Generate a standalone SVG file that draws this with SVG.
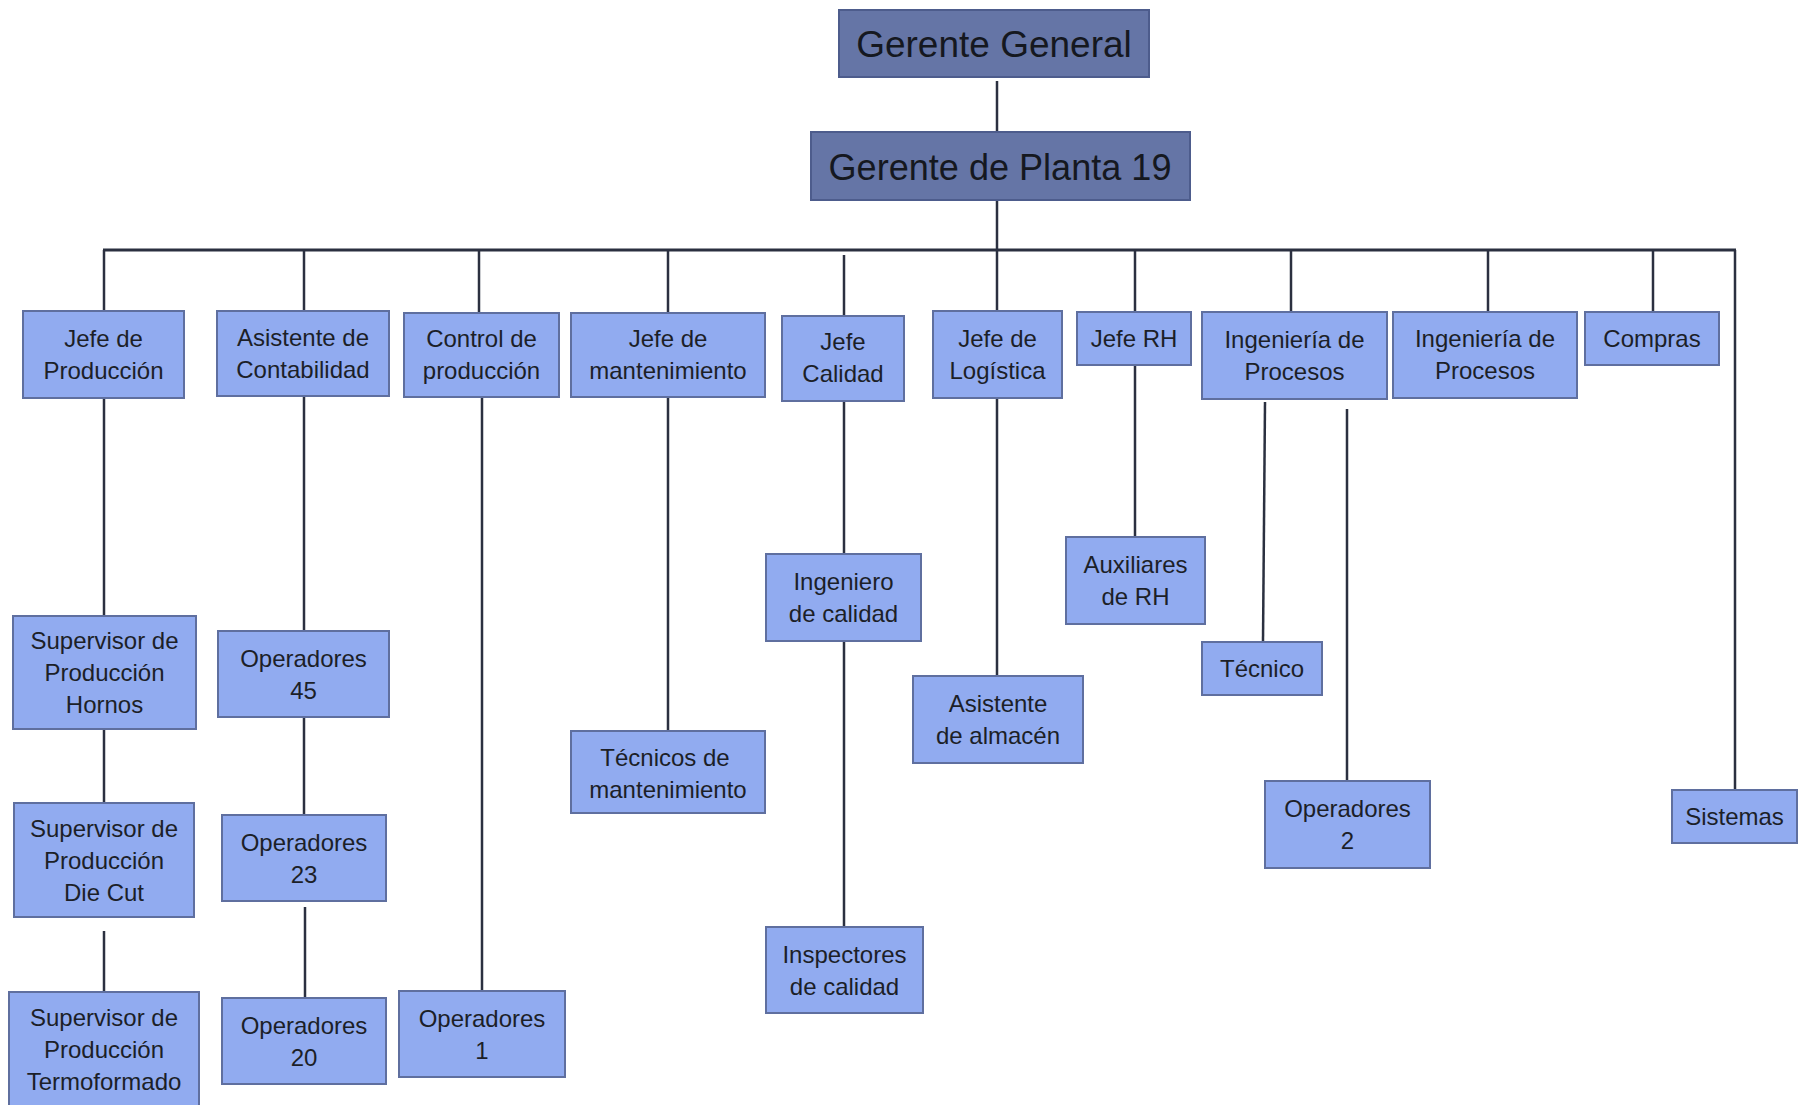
<svg xmlns="http://www.w3.org/2000/svg" width="1803" height="1105" viewBox="0 0 1803 1105">
<style>
.top rect{fill:#6575a6;stroke:#4d5c8c;stroke-width:2}
.top text{font-family:"Liberation Sans",Arial,sans-serif;font-size:37px;fill:#151820;text-anchor:middle}
.n rect{fill:#91abf0;stroke:#5f6f9f;stroke-width:2}
.n text{font-family:"Liberation Sans",Arial,sans-serif;font-size:24px;fill:#1c1f28;text-anchor:middle}
#connectors line{stroke:#2b3040;stroke-width:2.5}
#connectors line.bus{stroke-width:3.2}
</style>
<rect width="1803" height="1105" fill="#ffffff"/>
<g id="connectors">
<line x1="997" y1="81" x2="997" y2="132"/>
<line x1="997" y1="200" x2="997" y2="250"/>
<line class="bus" x1="103" y1="250" x2="1736" y2="250"/>
<line x1="104" y1="250" x2="104" y2="311"/>
<line x1="304" y1="250" x2="304" y2="311"/>
<line x1="479" y1="250" x2="479" y2="313"/>
<line x1="668" y1="250" x2="668" y2="313"/>
<line x1="844" y1="255" x2="844" y2="316"/>
<line x1="997" y1="250" x2="997" y2="311"/>
<line x1="1135" y1="250" x2="1135" y2="312"/>
<line x1="1291" y1="250" x2="1291" y2="312"/>
<line x1="1488" y1="250" x2="1488" y2="312"/>
<line x1="1653" y1="250" x2="1653" y2="312"/>
<line x1="1735" y1="250" x2="1735" y2="790"/>
<line x1="104" y1="398" x2="104" y2="616"/>
<line x1="104" y1="729" x2="104" y2="803"/>
<line x1="104" y1="931" x2="104" y2="992"/>
<line x1="304" y1="396" x2="304" y2="631"/>
<line x1="304" y1="717" x2="304" y2="815"/>
<line x1="305" y1="907" x2="305" y2="998"/>
<line x1="482" y1="397" x2="482" y2="991"/>
<line x1="668" y1="397" x2="668" y2="731"/>
<line x1="844" y1="401" x2="844" y2="554"/>
<line x1="844" y1="641" x2="844" y2="927"/>
<line x1="997" y1="398" x2="997" y2="676"/>
<line x1="1135" y1="365" x2="1135" y2="537"/>
<line x1="1265" y1="402" x2="1263" y2="642"/>
<line x1="1347" y1="409" x2="1347" y2="781"/>
</g>
<g id="gerente-general" class="top"><rect x="839" y="10" width="310" height="67"/><text x="994" y="57">Gerente General</text></g>
<g id="gerente-planta" class="top"><rect x="811" y="132" width="379" height="68"/><text x="1000" y="180" textLength="343" lengthAdjust="spacingAndGlyphs">Gerente de Planta 19</text></g>
<g id="jefe-produccion" class="n"><rect x="23" y="311" width="161" height="87"/><text x="103.5" y="347">Jefe de</text><text x="103.5" y="379">Producción</text></g>
<g id="asistente-contabilidad" class="n"><rect x="217" y="311" width="172" height="85"/><text x="303" y="346">Asistente de</text><text x="303" y="378">Contabilidad</text></g>
<g id="control-produccion" class="n"><rect x="404" y="313" width="155" height="84"/><text x="481.5" y="347">Control de</text><text x="481.5" y="379">producción</text></g>
<g id="jefe-mantenimiento" class="n"><rect x="571" y="313" width="194" height="84"/><text x="668" y="347">Jefe de</text><text x="668" y="379">mantenimiento</text></g>
<g id="jefe-calidad" class="n"><rect x="782" y="316" width="122" height="85"/><text x="843" y="350">Jefe</text><text x="843" y="382">Calidad</text></g>
<g id="jefe-logistica" class="n"><rect x="933" y="311" width="129" height="87"/><text x="997.5" y="347">Jefe de</text><text x="997.5" y="379">Logística</text></g>
<g id="jefe-rh" class="n"><rect x="1077" y="312" width="114" height="53"/><text x="1134" y="347">Jefe RH</text></g>
<g id="ingenieria-procesos-1" class="n"><rect x="1202" y="312" width="185" height="87"/><text x="1294.5" y="348">Ingeniería de</text><text x="1294.5" y="380">Procesos</text></g>
<g id="ingenieria-procesos-2" class="n"><rect x="1393" y="312" width="184" height="86"/><text x="1485" y="347">Ingeniería de</text><text x="1485" y="379">Procesos</text></g>
<g id="compras" class="n"><rect x="1585" y="312" width="134" height="53"/><text x="1652" y="347">Compras</text></g>
<g id="sistemas" class="n"><rect x="1672" y="790" width="125" height="53"/><text x="1734.5" y="825">Sistemas</text></g>
<g id="sup-hornos" class="n"><rect x="13" y="616" width="183" height="113"/><text x="104.5" y="649">Supervisor de</text><text x="104.5" y="681">Producción</text><text x="104.5" y="713">Hornos</text></g>
<g id="sup-diecut" class="n"><rect x="14" y="803" width="180" height="114"/><text x="104" y="837">Supervisor de</text><text x="104" y="869">Producción</text><text x="104" y="901">Die Cut</text></g>
<g id="sup-termoformado" class="n"><rect x="9" y="992" width="190" height="120"/><text x="104" y="1026">Supervisor de</text><text x="104" y="1058">Producción</text><text x="104" y="1090">Termoformado</text></g>
<g id="operadores-45" class="n"><rect x="218" y="631" width="171" height="86"/><text x="303.5" y="667">Operadores</text><text x="303.5" y="699">45</text></g>
<g id="operadores-23" class="n"><rect x="222" y="815" width="164" height="86"/><text x="304" y="851">Operadores</text><text x="304" y="883">23</text></g>
<g id="operadores-20" class="n"><rect x="222" y="998" width="164" height="86"/><text x="304" y="1034">Operadores</text><text x="304" y="1066">20</text></g>
<g id="operadores-1" class="n"><rect x="399" y="991" width="166" height="86"/><text x="482" y="1027">Operadores</text><text x="482" y="1059">1</text></g>
<g id="tecnicos-mantenimiento" class="n"><rect x="571" y="731" width="194" height="82"/><text x="665" y="766">Técnicos de</text><text x="668" y="798">mantenimiento</text></g>
<g id="ingeniero-calidad" class="n"><rect x="766" y="554" width="155" height="87"/><text x="843.5" y="590">Ingeniero</text><text x="843.5" y="622">de calidad</text></g>
<g id="inspectores-calidad" class="n"><rect x="766" y="927" width="157" height="86"/><text x="844.5" y="963">Inspectores</text><text x="844.5" y="995">de calidad</text></g>
<g id="asistente-almacen" class="n"><rect x="913" y="676" width="170" height="87"/><text x="998" y="712">Asistente</text><text x="998" y="744">de almacén</text></g>
<g id="auxiliares-rh" class="n"><rect x="1066" y="537" width="139" height="87"/><text x="1135.5" y="573">Auxiliares</text><text x="1135.5" y="605">de RH</text></g>
<g id="tecnico" class="n"><rect x="1202" y="642" width="120" height="53"/><text x="1262" y="677">Técnico</text></g>
<g id="operadores-2" class="n"><rect x="1265" y="781" width="165" height="87"/><text x="1347.5" y="817">Operadores</text><text x="1347.5" y="849">2</text></g>
</svg>
